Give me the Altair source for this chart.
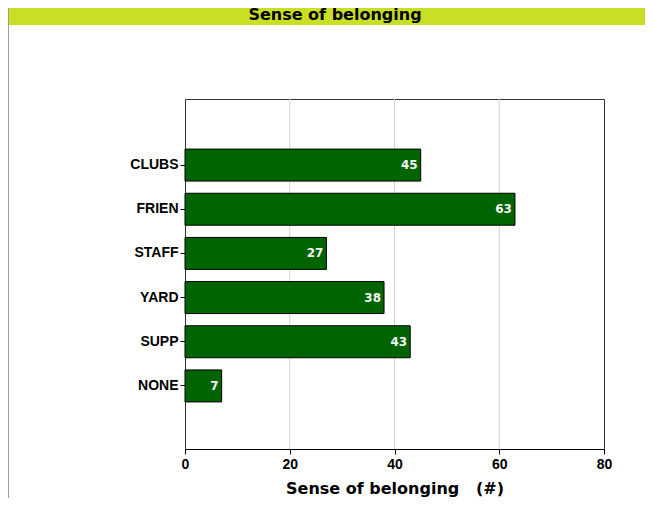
import altair as alt
import pandas as pd

categories = ["CLUBS", "FRIEN", "STAFF", "YARD", "SUPP", "NONE"]
values = [45, 63, 27, 38, 43, 7]
x_ticks = [0, 20, 40, 60, 80]
grid_values = [20, 40, 60]
header_text = ["Sense of belonging"]
x_title = "Sense of belonging\u00a0\u00a0\u00a0(#)"

df = pd.DataFrame({"cat": categories, "val": values})
gdf = pd.DataFrame({"val": grid_values})
hdr = pd.DataFrame({"t": header_text})

FONT = "DejaVu Sans"
TICKFONT = "Liberation Sans"
PL, PT = 177, 91
W, H = 419, 350
TW, TH = 637, 490

y_enc = alt.Y(
    "cat:N", sort=categories,
    scale=alt.Scale(paddingInner=0.276, paddingOuter=0.5, range=[28, 325]),
    axis=alt.Axis(title=None, labelFont=TICKFONT, labelFontWeight="bold", labelFontSize=14,
                  labelColor="black", tickColor="black", tickSize=5, labelPadding=2,
                  domain=False, grid=False),
)
x_enc = alt.X(
    "val:Q", scale=alt.Scale(domain=[0, 80], nice=False),
    axis=alt.Axis(values=x_ticks, title=x_title, titleFont=FONT, titleFontSize=16,
                  titleFontWeight="bold", titleColor="black", titlePadding=9,
                  labelFont=TICKFONT, labelFontWeight="bold", labelFontSize=14, labelColor="black",
                  tickColor="black", tickSize=5, labelPadding=3, domainColor="black",
                  grid=False, labelFlush=False),
)

grid = alt.Chart(gdf).mark_rule(color="#d3d3d3", strokeWidth=1).encode(
    x=alt.X("val:Q"), y=alt.value(0), y2=alt.value(H)
)
bars = alt.Chart(df).mark_bar(color="#006400", stroke="black", strokeWidth=1).encode(x=x_enc, y=y_enc)
labels = alt.Chart(df).mark_text(
    align="right", dx=-3, color="#f4f4f4", fontWeight="bold", font=FONT, fontSize=12
).encode(x="val:Q", y=alt.Y("cat:N", sort=categories), text="val:Q")

hbar = alt.Chart(hdr).mark_rect(color="#c8df24").encode(
    x=alt.value(-PL), x2=alt.value(TW - PL), y=alt.value(-PT), y2=alt.value(-74)
)
htext = alt.Chart(hdr).mark_text(
    font=FONT, fontWeight="bold", fontSize=16, color="black", align="center", baseline="alphabetic"
).encode(x=alt.value(150), y=alt.value(-79), text="t:N")
border = alt.Chart(hdr).mark_rule(color="#a0a0a0", strokeWidth=1).encode(
    x=alt.value(-PL + 0.5), y=alt.value(-PT), y2=alt.value(TH - PT)
)

chart = alt.layer(hbar, htext, border, grid, bars, labels).properties(
    width=W, height=H,
    autosize=alt.AutoSizeParams(type="none"),
    padding={"left": PL, "top": PT, "right": TW - PL - W, "bottom": TH - PT - H},
).configure_view(stroke="#333333", strokeWidth=1)

chart.save("out.html", embed_options={"renderer": "svg", "actions": False})
